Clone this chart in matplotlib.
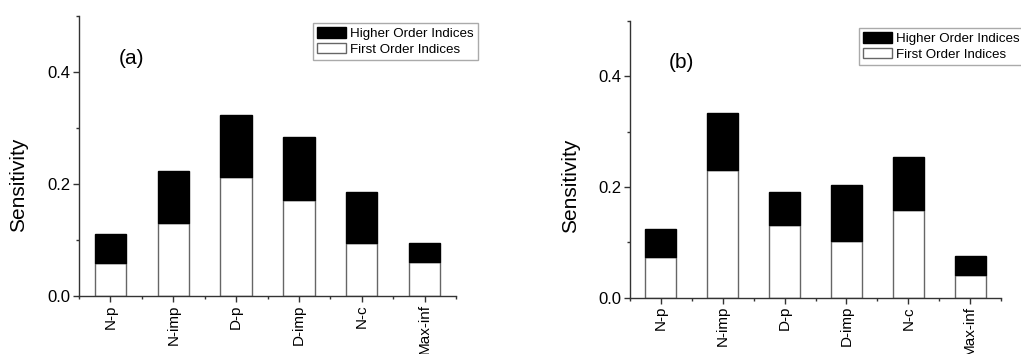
import numpy as np
import matplotlib
matplotlib.use('Agg')
import matplotlib.pyplot as plt
from matplotlib.patches import Patch
from matplotlib.ticker import MultipleLocator

plt.rcParams['font.family'] = ['Liberation Sans', 'DejaVu Sans']

# Parameters
categories = ['N-p', 'N-imp', 'D-p', 'D-imp', 'N-c', 'Max-inf']

# Case (a): first order and higher order sensitivity indices
first_a = [0.059, 0.131, 0.213, 0.172, 0.094, 0.061]
higher_a = [0.052, 0.093, 0.110, 0.112, 0.092, 0.033]

# Case (b)
first_b = [0.074, 0.231, 0.132, 0.102, 0.158, 0.041]
higher_b = [0.051, 0.102, 0.059, 0.101, 0.096, 0.034]

W, H = 1021, 354
fig = plt.figure(figsize=(W / 100, H / 100), dpi=100)

ax_a = fig.add_axes([79 / W, 58 / H, 377 / W, 280 / H])
ax_b = fig.add_axes([630 / W, 56.3 / H, 371 / W, 276.7 / H])

spine_col = '#333333'
edge_col = '#666666'


def draw_panel(ax, first, higher, tag, label_xy):
    x = np.arange(len(categories))
    ax.bar(x, first, width=0.5, color='white', edgecolor=edge_col, linewidth=1.0)
    ax.bar(x, higher, width=0.5, bottom=first, color='black',
           edgecolor='black', linewidth=1.0)

    ax.set_xlim(-0.5, len(categories) - 0.5)
    ax.set_ylim(0, 0.5)
    ax.set_xticks(x)
    ax.set_xticklabels(categories, rotation=90, fontsize=11)
    ax.xaxis.set_minor_locator(MultipleLocator(0.5))
    ax.set_yticks([0.0, 0.2, 0.4])
    ax.set_yticklabels(['0.0', '0.2', '0.4'], fontsize=12)
    ax.yaxis.set_minor_locator(MultipleLocator(0.1))
    ax.tick_params(which='major', direction='out', length=4, width=1,
                   color=spine_col, pad=2)
    ax.tick_params(which='minor', direction='out', length=2.5, width=1,
                   color=spine_col)
    ax.set_ylabel('Sensitivity', fontsize=15)
    ax.yaxis.set_label_coords(*label_xy)

    for s in ['top', 'right']:
        ax.spines[s].set_visible(False)
    for s in ['left', 'bottom']:
        ax.spines[s].set_color(spine_col)
        ax.spines[s].set_linewidth(1.0)

    ax.text(0.105, 0.83, tag, transform=ax.transAxes, fontsize=15)


draw_panel(ax_a, first_a, higher_a, '(a)', (-0.135, 0.396))
draw_panel(ax_b, first_b, higher_b, '(b)', (-0.135, 0.404))

handles = [Patch(facecolor='black', edgecolor='black', label='Higher Order Indices'),
           Patch(facecolor='white', edgecolor=edge_col, label='First Order Indices')]

legend_kw = dict(fontsize=9.6, frameon=True, fancybox=False, framealpha=1,
                 edgecolor='#aaaaaa', handlelength=2.2, handleheight=0.85,
                 handletextpad=0.3, borderpad=0.3, labelspacing=0.2,
                 borderaxespad=0)

leg_a = ax_a.legend(handles=handles, loc='upper right',
                    bbox_to_anchor=(478 / W, 1 - 23 / H),
                    bbox_transform=fig.transFigure, **legend_kw)
leg_a.get_frame().set_linewidth(1.0)

leg_b = ax_b.legend(handles=handles, loc='upper left',
                    bbox_to_anchor=(859 / W, 1 - 28 / H),
                    bbox_transform=fig.transFigure, **legend_kw)
leg_b.get_frame().set_linewidth(1.0)

fig.savefig('out.png', dpi=100)
